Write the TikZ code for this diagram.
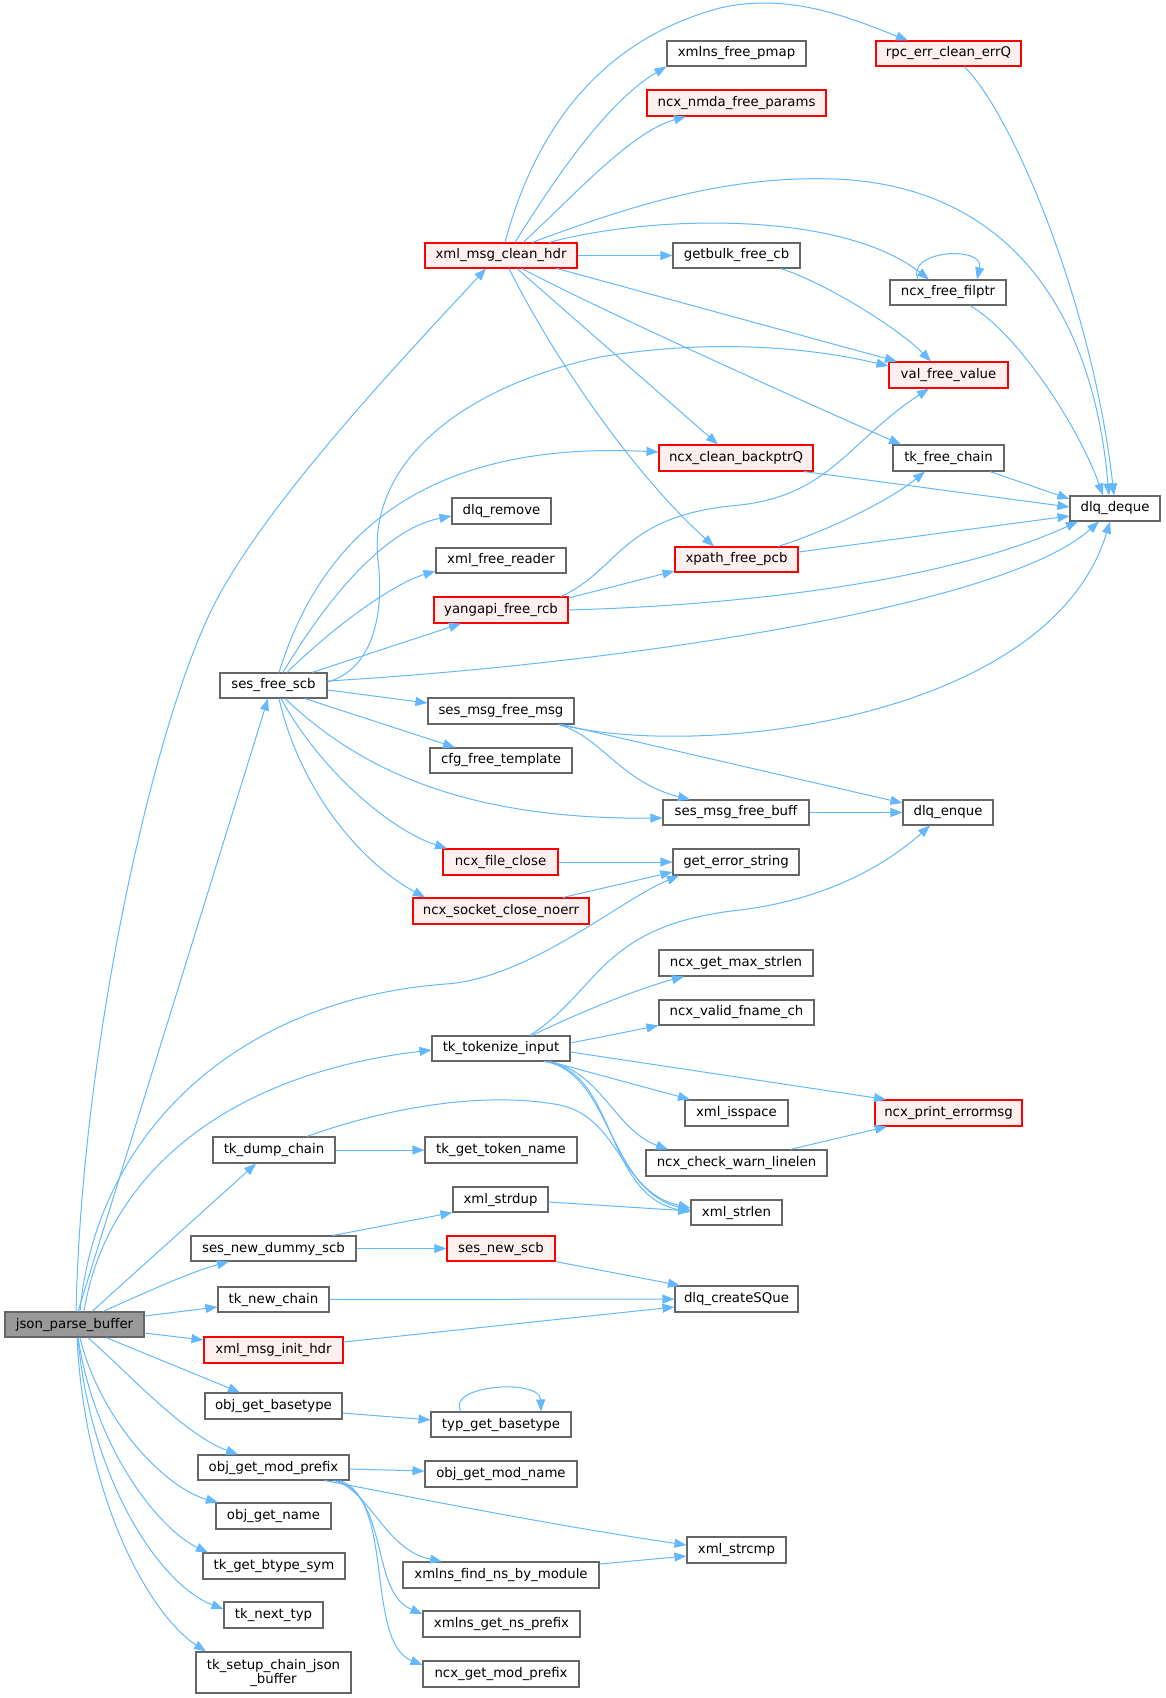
\documentclass[tikz,border=0pt]{standalone}
\usepackage{fontspec}
\setmainfont{DejaVu Sans}
\usetikzlibrary{arrows.meta}
\definecolor{edgec}{HTML}{63B8FF}
\definecolor{boxgray}{HTML}{666666}
\definecolor{redfill}{HTML}{FFF0F0}
\definecolor{jfill}{HTML}{999999}
\tikzset{
  base/.style={rectangle, inner sep=0pt, align=center, line width=1.1bp,
    font=\fontsize{13.3bp}{14bp}\selectfont},
  nbox/.style={base, draw=boxgray, fill=white},
  rbox/.style={base, draw=red, fill=redfill},
  gbox/.style={base, draw=boxgray, fill=jfill},
  edg/.style={draw=edgec, line width=1bp, -{Triangle[length=12bp,width=9bp]}, fill=none}
}
\newcommand\nd[7]{\node[#6, minimum width={(#4-#2)*1bp}, minimum height={(#5-#3)*1bp}] (#1) at ({(#2+#4)/2},{(#3+#5)/2}) {#7};}
\begin{document}
\begin{tikzpicture}[x=1bp,y=-1bp]
\useasboundingbox (0,0) rectangle (1165,1698);
% nodes
\nd{J}{5}{1312}{144}{1337}{gbox}{json\_parse\_buffer}
\nd{X}{425}{243}{577}{268}{rbox}{xml\_msg\_clean\_hdr}
\nd{XP}{667}{41}{806}{66}{nbox}{xmlns\_free\_pmap}
\nd{RPC}{876}{41}{1021}{66}{rbox}{rpc\_err\_clean\_errQ}
\nd{NM}{647}{90}{826}{116}{rbox}{ncx\_nmda\_free\_params}
\nd{GB}{673}{243}{800}{268}{nbox}{getbulk\_free\_cb}
\nd{FP}{890}{280}{1006}{305}{nbox}{ncx\_free\_filptr}
\nd{VAL}{889}{362}{1008}{388}{rbox}{val\_free\_value}
\nd{BP}{659}{445}{813}{471}{rbox}{ncx\_clean\_backptrQ}
\nd{TF}{893}{445}{1004}{471}{nbox}{tk\_free\_chain}
\nd{DQ}{1070}{496}{1160}{521}{nbox}{dlq\_deque}
\nd{XPC}{675}{547}{798}{572}{rbox}{xpath\_free\_pcb}
\nd{DR}{452}{498}{551}{524}{nbox}{dlq\_remove}
\nd{XFR}{436}{548}{566}{573}{nbox}{xml\_free\_reader}
\nd{YR}{434}{597}{568}{623}{rbox}{yangapi\_free\_rcb}
\nd{S}{220}{673}{327}{698}{nbox}{ses\_free\_scb}
\nd{SM}{428}{698}{574}{724}{nbox}{ses\_msg\_free\_msg}
\nd{CFG}{430}{748}{572}{773}{nbox}{cfg\_free\_template}
\nd{SB}{663}{800}{809}{825}{nbox}{ses\_msg\_free\_buff}
\nd{DE}{903}{800}{993}{825}{nbox}{dlq\_enque}
\nd{FC}{443}{849}{558}{875}{rbox}{ncx\_file\_close}
\nd{GE}{673}{849}{799}{875}{nbox}{get\_error\_string}
\nd{SC}{413}{898}{589}{924}{rbox}{ncx\_socket\_close\_noerr}
\nd{GM}{659}{950}{813}{976}{nbox}{ncx\_get\_max\_strlen}
\nd{VF}{659}{1000}{814}{1025}{nbox}{ncx\_valid\_fname\_ch}
\nd{T}{432}{1036}{570}{1061}{nbox}{tk\_tokenize\_input}
\nd{IS}{685}{1100}{788}{1126}{nbox}{xml\_isspace}
\nd{PE}{875}{1100}{1022}{1126}{rbox}{ncx\_print\_errormsg}
\nd{CW}{646}{1150}{827}{1176}{nbox}{ncx\_check\_warn\_linelen}
\nd{TD}{213}{1137}{335}{1163}{nbox}{tk\_dump\_chain}
\nd{TG}{425}{1137}{577}{1163}{nbox}{tk\_get\_token\_name}
\nd{SD}{453}{1187}{548}{1212}{nbox}{xml\_strdup}
\nd{SL}{691}{1200}{782}{1225}{nbox}{xml\_strlen}
\nd{ND}{191}{1236}{356}{1261}{nbox}{ses\_new\_dummy\_scb}
\nd{NS}{447}{1236}{555}{1261}{rbox}{ses\_new\_scb}
\nd{TN}{218}{1287}{329}{1312}{nbox}{tk\_new\_chain}
\nd{CQ}{675}{1286}{798}{1312}{nbox}{dlq\_createSQue}
\nd{MI}{204}{1337}{343}{1363}{rbox}{xml\_msg\_init\_hdr}
\nd{OB}{205}{1393}{342}{1419}{nbox}{obj\_get\_basetype}
\nd{TB}{431}{1412}{571}{1437}{nbox}{typ\_get\_basetype}
\nd{OP}{198}{1455}{349}{1480}{nbox}{obj\_get\_mod\_prefix}
\nd{OM}{425}{1461}{577}{1487}{nbox}{obj\_get\_mod\_name}
\nd{SCMP}{687}{1537}{786}{1563}{nbox}{xml\_strcmp}
\nd{ON}{216}{1503}{331}{1529}{nbox}{obj\_get\_name}
\nd{BS}{203}{1553}{345}{1579}{nbox}{tk\_get\_btype\_sym}
\nd{FN}{403}{1562}{599}{1588}{nbox}{xmlns\_find\_ns\_by\_module}
\nd{NT}{224}{1602}{323}{1628}{nbox}{tk\_next\_typ}
\nd{NP}{423}{1611}{580}{1637}{nbox}{xmlns\_get\_ns\_prefix}
\nd{SJ}{196}{1652}{351}{1693}{nbox}{tk\_setup\_chain\_json\\\_buffer}
\nd{MP}{423}{1661}{579}{1687}{nbox}{ncx\_get\_mod\_prefix}
% edges from json_parse_buffer
\draw[edg] (J.north -| 76,0) .. controls (82,1050) and (150,739) .. (210,613) .. controls (260,508) and (406,355) .. (X.south -| 486,0);
\draw[edg] (J.north -| 78,0) -- (S.south -| 268,0);
\draw[edg] (J.north -| 80,0) .. controls (95,1140) and (230,1000) .. (446,984) .. controls (530,978) and (620,900) .. (GE.south -| 679,0);
\draw[edg] (J.north -| 84,0) .. controls (105,1180) and (220,1075) .. (T.west |- 0,1050);
\draw[edg] (J.north -| 92,0) -- (TD.south -| 256,0);
\draw[edg] (J.north -| 103,0) .. controls (140,1295) and (190,1272) .. (ND.south -| 229,0);
\draw[edg] (J.east |- 0,1316) -- (TN.west |- 0,1307);
\draw[edg] (J.east |- 0,1333) -- (MI.west |- 0,1340);
\draw[edg] (J.south -| 106,0) -- (OB.north -| 240,0);
\draw[edg] (J.south -| 88,0) .. controls (130,1375) and (185,1435) .. (OP.north -| 238,0);
\draw[edg] (J.south -| 80,0) .. controls (100,1420) and (165,1488) .. (ON.north -| 218,0);
\draw[edg] (J.south -| 78,0) .. controls (95,1450) and (160,1530) .. (BS.north -| 208,0);
\draw[edg] (J.south -| 78,0) .. controls (90,1480) and (160,1585) .. (NT.west |- 0,1609);
\draw[edg] (J.south -| 77,0) .. controls (85,1500) and (150,1615) .. (SJ.north -| 206,0);
% edges from xml_msg_clean_hdr
\draw[edg] (X.north -| 505,0) .. controls (535,130) and (600,40) .. (720,8) .. controls (790,-8) and (850,18) .. (RPC.north -| 908,0);
\draw[edg] (X.north -| 515,0) .. controls (560,170) and (610,100) .. (XP.south west);
\draw[edg] (X.north -| 523,0) .. controls (570,200) and (630,132) .. (NM.south -| 686,0);
\draw[edg] (X.north -| 532,0) .. controls (620,210) and (720,175) .. (834,179) .. controls (1000,185) and (1092,300) .. (DQ.north -| 1109,0);
\draw[edg] (X.north -| 549,0) .. controls (650,215) and (840,210) .. (FP.north -| 929,0);
\draw[edg] (X) -- (GB);
\draw[edg] (X.south -| 557,0) -- (VAL.north -| 897,0);
\draw[edg] (X.south -| 522,0) .. controls (600,310) and (800,400) .. (TF.north -| 901,0);
\draw[edg] (X.south -| 517,0) -- (BP.north -| 718,0);
\draw[edg] (X.south -| 509,0) .. controls (560,370) and (640,480) .. (XPC.north -| 714,0);
% right part
\draw[edg] (RPC.south -| 964,0) .. controls (1010,110) and (1092,300) .. (DQ.north -| 1114,0);
\draw[edg] (GB.south -| 781,0) .. controls (830,285) and (900,330) .. (VAL.north -| 931,0);
\draw[edg] (FP.north -| 918,0) .. controls (905,250) and (985,245) .. (FP.north -| 977,0);
\draw[edg] (FP.south -| 970,0) .. controls (1020,335) and (1080,430) .. (DQ.north -| 1103,0);
\draw[edg] (BP.south -| 804,0) -- (DQ.west |- 0,507);
\draw[edg] (TF.south -| 990,0) -- (DQ.west |- 0,499);
\draw[edg] (XPC.north -| 778,0) .. controls (830,530) and (890,500) .. (TF.south -| 925,0);
\draw[edg] (XPC.east |- 0,552) -- (DQ.west |- 0,516);
\draw[edg] (YR.north -| 561,0) .. controls (620,570) and (620,515) .. (740,505) .. controls (830,495) and (850,440) .. (VAL.south -| 929,0);
\draw[edg] (YR.east |- 0,598) -- (XPC.west |- 0,571);
\draw[edg] (YR.east |- 0,610) .. controls (750,605) and (950,580) .. (DQ.south -| 1078,0);
% edges from ses_free_scb
\draw[edg] (S.east |- 0,682) .. controls (370,670) and (385,620) .. (378,560) .. controls (368,470) and (450,390) .. (600,357) .. controls (700,340) and (800,345) .. (VAL.west |- 0,366);
\draw[edg] (S.north -| 279,0) .. controls (320,540) and (420,440) .. (BP.west |- 0,452);
\draw[edg] (S.north -| 283,0) .. controls (320,610) and (380,530) .. (DR.west |- 0,516);
\draw[edg] (S.north -| 287,0) .. controls (330,630) and (390,585) .. (XFR.west |- 0,571);
\draw[edg] (S.north -| 312,0) -- (YR.south -| 461,0);
\draw[edg] (S.east |- 0,681) .. controls (600,665) and (1000,610) .. (DQ.south -| 1099,0);
\draw[edg] (S.east |- 0,690) -- (SM.west |- 0,703);
\draw[edg] (S.south -| 305,0) -- (CFG.north -| 455,0);
\draw[edg] (S.south -| 285,0) .. controls (350,760) and (450,820) .. (SB.west |- 0,818);
\draw[edg] (S.south -| 281,0) .. controls (320,770) and (390,830) .. (FC.north -| 447,0);
\draw[edg] (S.south -| 279,0) .. controls (300,790) and (360,862) .. (SC.north -| 425,0);
\draw[edg] (SM.south -| 560,0) .. controls (700,760) and (1050,720) .. (DQ.south -| 1110,0);
\draw[edg] (SM.south -| 558,0) .. controls (600,735) and (620,782) .. (SB.north -| 690,0);
\draw[edg] (SM.south -| 562,0) -- (DE.west |- 0,803);
\draw[edg] (SB) -- (DE);
\draw[edg] (FC) -- (GE);
\draw[edg] (SC.north -| 563,0) -- (GE.west |- 0,872);
% edges from tk_tokenize_input
\draw[edg] (T.north -| 530,0) .. controls (600,990) and (600,925) .. (740,910) .. controls (820,900) and (880,870) .. (DE.south -| 930,0);
\draw[edg] (T.north -| 532,0) .. controls (580,1012) and (640,988) .. (GM.south -| 684,0);
\draw[edg] (T.east |- 0,1043) -- (VF.south west);
\draw[edg] (T.east |- 0,1052) -- (PE.north -| 886,0);
\draw[edg] (T.south -| 550,0) -- (IS.north -| 690,0);
\draw[edg] (T.south -| 548,0) .. controls (600,1070) and (615,1130) .. (CW.north -| 668,0);
\draw[edg] (T.south -| 546,0) .. controls (612,1075) and (608,1190) .. (SL.west |- 0,1210);
\draw[edg] (T.south -| 544,0) .. controls (618,1070) and (603,1195) .. (SL.west |- 0,1212);
\draw[edg] (CW.north -| 790,0) -- (PE.south -| 887,0);
% lower part
\draw[edg] (TD) -- (TG);
\draw[edg] (TD.north -| 307,0) .. controls (380,1110) and (480,1090) .. (560,1105) .. controls (620,1118) and (620,1192) .. (SL.west |- 0,1208);
\draw[edg] (ND.north -| 333,0) -- (SD.south west);
\draw[edg] (SD.east |- 0,1202) -- (SL.west |- 0,1211);
\draw[edg] (ND) -- (NS);
\draw[edg] (NS.south east) -- (CQ.north -| 680,0);
\draw[edg] (TN) -- (CQ);
\draw[edg] (MI.east |- 0,1342) -- (CQ.west |- 0,1307);
\draw[edg] (OB.east |- 0,1413) -- (TB.west |- 0,1420);
\draw[edg] (TB.north -| 461,0) .. controls (445,1385) and (540,1378) .. (TB.north -| 541,0);
\draw[edg] (OP.east |- 0,1469) -- (OM.west |- 0,1471);
\draw[edg] (OP.south -| 325,0) .. controls (400,1495) and (550,1525) .. (SCMP.west |- 0,1545);
\draw[edg] (OP.south -| 334,0) .. controls (370,1490) and (385,1550) .. (FN.north -| 442,0);
\draw[edg] (OP.south -| 337,0) .. controls (390,1500) and (370,1592) .. (NP.west |- 0,1614);
\draw[edg] (OP.south -| 340,0) .. controls (395,1500) and (365,1642) .. (MP.west |- 0,1665);
\draw[edg] (FN.east |- 0,1564) -- (SCMP.west |- 0,1556);
\end{tikzpicture}
\end{document}
